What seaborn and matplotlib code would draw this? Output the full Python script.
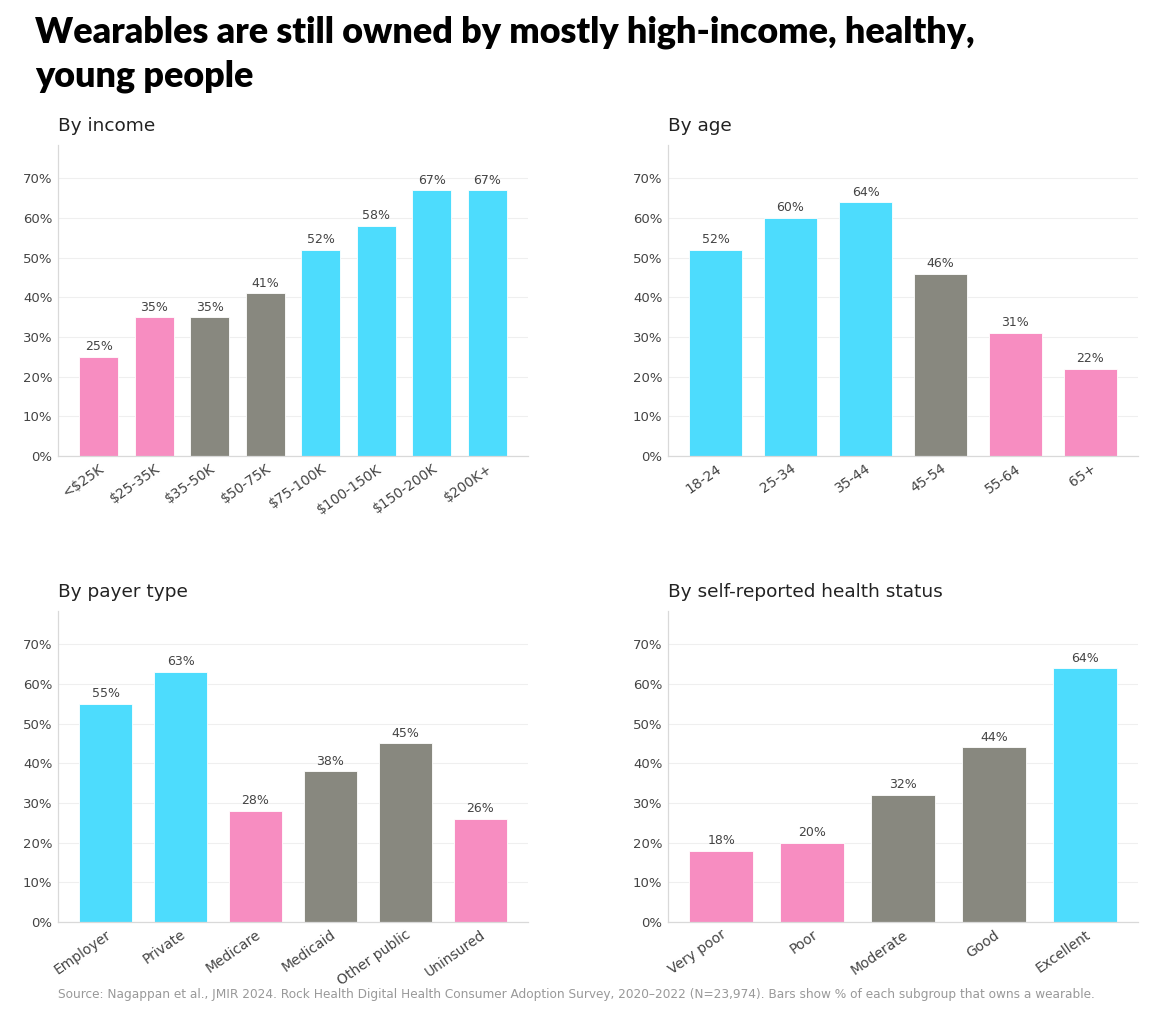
import numpy as np
import pandas as pd
import seaborn as sns
import matplotlib.pyplot as plt
from matplotlib.ticker import FuncFormatter

PINK = "#f78dc1"
GRAY = "#88887f"
CYAN = "#4ddcfd"

income_cats = ["<$25K", "$25-35K", "$35-50K", "$50-75K", "$75-100K", "$100-150K", "$150-200K", "$200K+"]
income_vals = [25, 35, 35, 41, 52, 58, 67, 67]
income_cols = [PINK, PINK, GRAY, GRAY, CYAN, CYAN, CYAN, CYAN]

age_cats = ["18-24", "25-34", "35-44", "45-54", "55-64", "65+"]
age_vals = [52, 60, 64, 46, 31, 22]
age_cols = [CYAN, CYAN, CYAN, GRAY, PINK, PINK]

payer_cats = ["Employer", "Private", "Medicare", "Medicaid", "Other public", "Uninsured"]
payer_vals = [55, 63, 28, 38, 45, 26]
payer_cols = [CYAN, CYAN, PINK, GRAY, GRAY, PINK]

health_cats = ["Very poor", "Poor", "Moderate", "Good", "Excellent"]
health_vals = [18, 20, 32, 44, 64]
health_cols = [PINK, PINK, GRAY, GRAY, CYAN]

panels = [
    ("By income", income_cats, income_vals, income_cols),
    ("By age", age_cats, age_vals, age_cols),
    ("By payer type", payer_cats, payer_vals, payer_cols),
    ("By self-reported health status", health_cats, health_vals, health_cols),
]

sns.set_theme(style="white")
plt.rcParams["font.family"] = ["DejaVu Sans"]

fig = plt.figure(figsize=(11.58, 10.22), dpi=100)
W, H = 1158, 1022
boxes = [(58, 145), (668, 145), (58, 611), (668, 611)]
aw, ah = 470, 311
ymax = max(max(p[2]) for p in panels) * 1.17
width = 0.7

for (title, cats, vals, cols), (x0, y0) in zip(panels, boxes):
    ax = fig.add_axes([x0 / W, 1 - (y0 + ah) / H, aw / W, ah / H])
    df = pd.DataFrame({"cat": cats, "val": vals})
    sns.barplot(data=df, x="cat", y="val", hue="cat", palette=cols, legend=False,
                width=width, edgecolor="white", linewidth=0.6, saturation=1, ax=ax)
    n = len(cats)
    span = (n - 1) + width
    pad = 0.05 * span
    ax.set_xlim(-width / 2 - pad, n - 1 + width / 2 + pad)
    ax.set_ylim(0, ymax)
    ax.set_yticks(np.arange(0, 71, 10))
    ax.yaxis.set_major_formatter(FuncFormatter(lambda v, p: f"{v:.0f}%"))
    ax.grid(axis="y", color="#efefef", linewidth=0.8)
    ax.set_axisbelow(True)
    for s in ["top", "right"]:
        ax.spines[s].set_visible(False)
    for s in ["left", "bottom"]:
        ax.spines[s].set_color("#d9d9d9")
        ax.spines[s].set_linewidth(0.9)
    ax.tick_params(axis="both", length=0, labelsize=9.5, labelcolor="#444444", pad=4)
    ax.set_xticks(range(n))
    ax.set_xticklabels(cats, rotation=35, ha="right", rotation_mode="anchor", fontsize=10)
    ax.set_xlabel("")
    ax.set_ylabel("")
    for i, v in enumerate(vals):
        ax.text(i, v + 0.9, f"{v}%", ha="center", va="bottom", fontsize=9, color="#444444")
    ax.set_title(title, loc="left", fontsize=13.3, color="#222222", pad=10)

fig.text(35 / W, 1 - 32 / H, "Wearables are still owned by mostly high-income, healthy,",
         fontsize=25.8, fontweight="heavy", family=["Lato", "DejaVu Sans"], va="center", color="black")
fig.text(35 / W, 1 - 76 / H, "young people",
         fontsize=25.8, fontweight="heavy", family=["Lato", "DejaVu Sans"], va="center", color="black")
fig.text(58 / W, 1 - 994 / H,
         "Source: Nagappan et al., JMIR 2024. Rock Health Digital Health Consumer Adoption Survey, 2020\u20132022 (N=23,974). Bars show % of each subgroup that owns a wearable.",
         fontsize=8.7, color="#999999", va="center")

fig.savefig("out.png", dpi=100)
